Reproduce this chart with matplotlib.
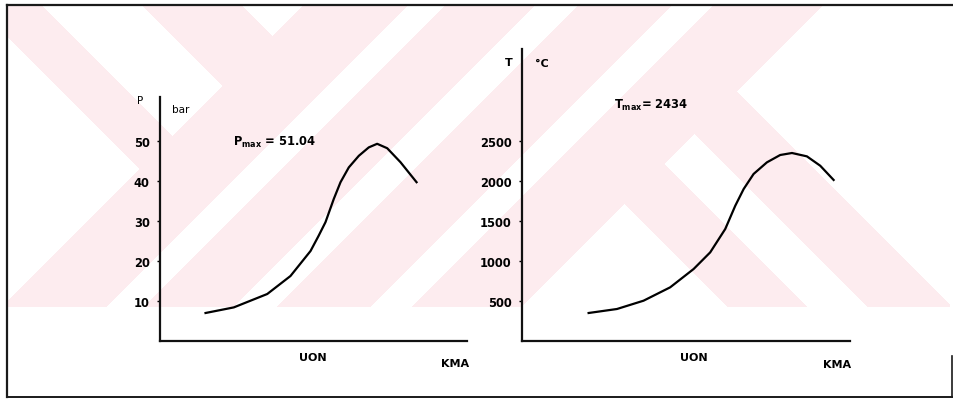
import numpy as np
import matplotlib
matplotlib.use('Agg')
import matplotlib.pyplot as plt

plt.rcParams['font.family'] = 'DejaVu Sans'
plt.rcParams['mathtext.fontset'] = 'dejavusans'

W, H = 954, 410

# pressure trace, crank angle (deg, 0 = UON) vs bar
p_deg = [-105.5, -77.9, -45.2, -22.5, -2.9, 4.9, 11.7, 19.8, 26.4, 34.5,
         44.3, 54.0, 62.2, 72.0, 85.0, 100.7]
p_bar = [7.0, 8.4, 11.75, 16.25, 22.5, 26.25, 29.7, 35.5, 39.7, 43.4,
         46.3, 48.4, 49.3, 48.2, 44.7, 39.7]
p_ticks = [10, 20, 30, 40, 50]

# temperature trace, crank angle vs degC
t_deg = [-102.9, -75.2, -49.2, -23.2, -0.3, 15.9, 30.6, 40.4, 48.6, 58.3,
         71.3, 84.3, 95.8, 110.4, 123.4, 136.5]
t_degc = [350, 400, 504, 671, 900, 1108, 1400, 1691, 1900, 2088,
          2233, 2325, 2350, 2308, 2191, 2013]
t_ticks = [500, 1000, 1500, 2000, 2500]

fig = plt.figure(figsize=(W/100, H/100), dpi=100)

def fx(px):
    return px / W

def fy(py):
    return 1 - py / H

# background: faint watermark stripes + frame
bg = fig.add_axes([0, 0, 1, 1], zorder=0)
X, Y = np.meshgrid(np.arange(W) + 0.5, np.arange(H) + 0.5)
u = X + Y
v = X - Y
left = (u < 310) & (((v >= -30) & (v < 36)) | ((v >= 136) & (v < 236)))
mid = (u >= 310) & (u < 830) & (((u < 415)) | ((u >= 452) & (u < 542)) |
                                ((u >= 585) & (u < 679)) | (u >= 720))
right = (u >= 830) & (((v >= 420) & (v < 500)) | ((v >= 560) & (v < 645)))
band = (X >= 8) & (X <= 950) & (Y >= 7) & (Y <= 308)
wm = (left | mid | right) & band
img = np.ones((H, W, 3))
img[wm] = np.array([253, 236, 239]) / 255.
bg.imshow(img, extent=[0, W, H, 0], interpolation='nearest', aspect='auto')
fc = '#1a1a1a'
bg.plot([7, 954], [6, 6], color=fc, lw=1.6)
bg.plot([7, 7], [6, 398], color=fc, lw=1.6)
bg.plot([7, 952], [398, 398], color=fc, lw=1.4)
bg.plot([952, 952], [357, 398], color=fc, lw=1.2)
bg.set_xlim(0, W)
bg.set_ylim(H, 0)
bg.axis('off')

def style(ax, ticks):
    ax.patch.set_alpha(0)
    for s in ['top', 'right']:
        ax.spines[s].set_visible(False)
    for s in ['left', 'bottom']:
        ax.spines[s].set_linewidth(1.6)
        ax.spines[s].set_color('#111111')
    ax.set_xticks([])
    ax.set_yticks(ticks)
    ax.tick_params(axis='y', length=2, width=1, pad=5.5)
    for lab in ax.get_yticklabels():
        lab.set_fontweight('bold')
        lab.set_fontsize(8.3)

# pressure panel
ax1 = fig.add_axes([fx(160), fy(342), fx(467) - fx(160), fy(98) - fy(342)], zorder=1)
ax1.plot(p_deg, p_bar, color='black', lw=1.6, solid_joinstyle='round')
ax1.set_xlim(-150, 150)
ax1.set_ylim(0, 61)
style(ax1, p_ticks)
ax1.text(-78.2, 50, r'$\mathbf{P_{max}}$ = 51.04', fontsize=8.3, fontweight='bold',
         va='center', ha='left')

# temperature panel
ax2 = fig.add_axes([fx(522), fy(342), fx(850) - fx(522), fy(50) - fy(342)], zorder=1)
ax2.plot(t_deg, t_degc, color='black', lw=1.6, solid_joinstyle='round')
ax2.set_xlim(-168, 152.5)
ax2.set_ylim(0, 3650)
style(ax2, t_ticks)
ax2.text(-78.2, 2962, r'$\mathbf{T_{max}}$= 2434', fontsize=8.3, fontweight='bold',
         va='center', ha='left')

# axis names
txt = dict(fontsize=8, fontweight='bold', va='center')
fig.text(fx(140), fy(101), 'P', ha='center', fontsize=7.5, va='center')
fig.text(fx(172), fy(110), 'bar', ha='left', fontsize=7.5, va='center')
fig.text(fx(313), fy(358), 'UON', ha='center', **txt)
fig.text(fx(455), fy(364), 'KMA', ha='center', **txt)
fig.text(fx(509), fy(63), 'T', ha='center', **txt)
fig.text(fx(535), fy(64), '°C', ha='left', **txt)
fig.text(fx(694), fy(358), 'UON', ha='center', **txt)
fig.text(fx(837), fy(365), 'KMA', ha='center', **txt)

fig.savefig('out.png', dpi=100)
